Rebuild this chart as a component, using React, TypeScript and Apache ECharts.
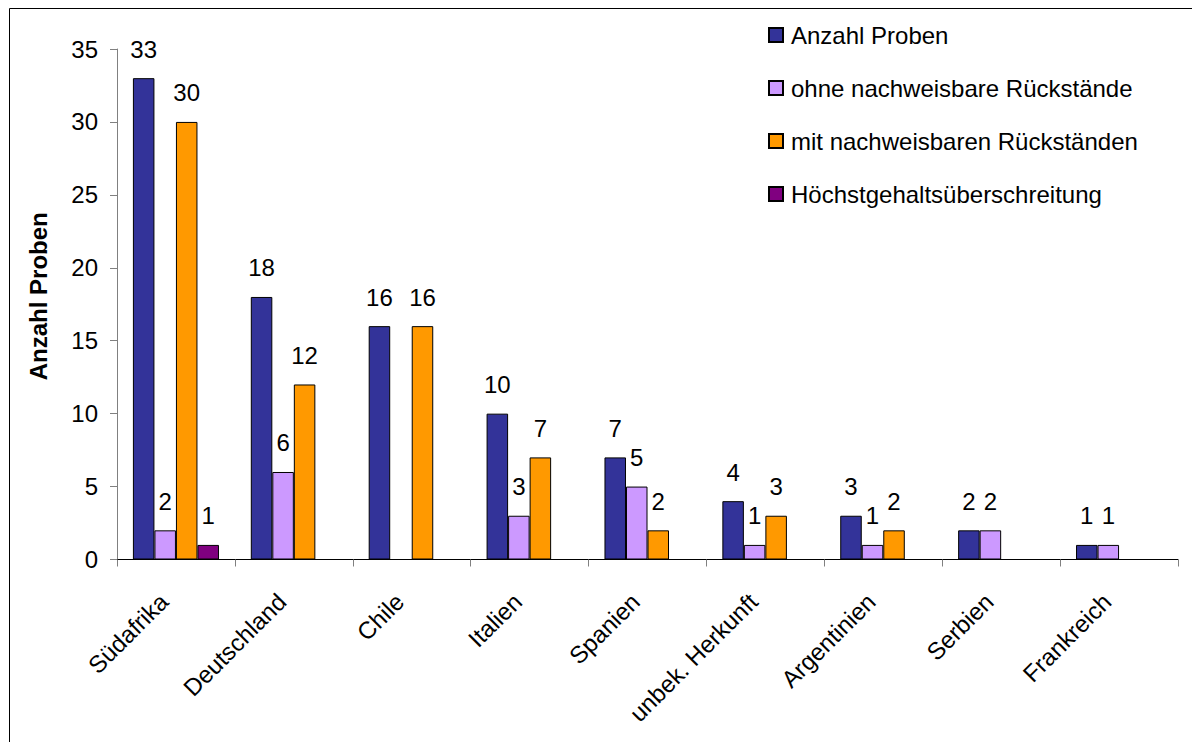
import React, { useEffect, useRef } from "react";
import * as echarts from "echarts";

const countries = [
  "Südafrika",
  "Deutschland",
  "Chile",
  "Italien",
  "Spanien",
  "unbek. Herkunft",
  "Argentinien",
  "Serbien",
  "Frankreich",
];

const seriesNames = [
  "Anzahl Proben",
  "ohne nachweisbare Rückstände",
  "mit nachweisbaren Rückständen",
  "Höchstgehaltsüberschreitung",
];

const anzahlProben = [33, 18, 16, 10, 7, 4, 3, 2, 1];
const ohneRueckstaende = [2, 6, null, 3, 5, 1, 1, 2, 1];
const mitRueckstaenden = [30, 12, 16, 7, 2, 3, 2, null, null];
const hoechstgehalt = [1, null, null, null, null, null, null, null, null];

const yTicks = { min: 0, max: 35, interval: 5 };

const colors = ["#333399", "#CC99FF", "#FF9900", "#800080"];
const FONT = "'Liberation Sans', Arial, sans-serif";

export default function App() {
  const ref = useRef<HTMLDivElement>(null);

  useEffect(() => {
    if (!ref.current) return;
    const chart = echarts.init(ref.current, undefined, { renderer: "svg" });
    const values = [anzahlProben, ohneRueckstaende, mitRueckstaenden, hoechstgehalt];

    chart.setOption({
      animation: false,
      backgroundColor: "#ffffff",
      textStyle: { fontFamily: FONT },
      grid: { left: 117, right: 14, top: 49, bottom: 182.5, containLabel: false },
      legend: {
        orient: "vertical",
        left: 768,
        top: 23,
        padding: 0,
        itemWidth: 14,
        itemHeight: 14,
        itemGap: 29,
        icon: "rect",
        textStyle: { fontSize: 24, color: "#000", fontFamily: FONT, padding: [0, 0, 0, 3] },
        data: seriesNames,
      },
      xAxis: {
        type: "category",
        data: countries,
        axisLine: { show: true, lineStyle: { color: "#000", width: 1 } },
        axisTick: { show: true, length: 7, lineStyle: { color: "#808080" } },
        axisLabel: {
          rotate: 45,
          fontSize: 24,
          color: "#000",
          fontFamily: FONT,
          margin: 26,
          padding: [0, 17, 0, 0],
          interval: 0,
        },
      },
      yAxis: {
        type: "value",
        min: yTicks.min,
        max: yTicks.max,
        interval: yTicks.interval,
        name: "Anzahl Proben",
        nameLocation: "middle",
        nameRotate: 90,
        nameGap: 67,
        nameTextStyle: {
          fontSize: 24,
          fontWeight: "bold",
          color: "#000",
          fontFamily: FONT,
          padding: [0, 0, 0, 16],
        },
        splitLine: { show: false },
        axisLine: { show: true, lineStyle: { color: "#808080", width: 1 } },
        axisTick: { show: true, length: 7, lineStyle: { color: "#808080" } },
        axisLabel: { fontSize: 24, color: "#000", fontFamily: FONT, margin: 19 },
      },
      series: seriesNames.map((name, i) => ({
        name,
        type: "bar",
        data: values[i],
        barGap: "0%",
        barCategoryGap: "27%",
        itemStyle: { color: colors[i], borderColor: "#000", borderWidth: 1 },
        label: {
          show: true,
          position: "top",
          distance: 17,
          fontSize: 24,
          color: "#000",
          fontFamily: FONT,
        },
      })),
      graphic: [
        {
          type: "line",
          shape: { x1: 9.5, y1: 8.5, x2: 1192, y2: 8.5 },
          style: { stroke: "#000", lineWidth: 1 },
        },
        {
          type: "line",
          shape: { x1: 9.5, y1: 8.5, x2: 9.5, y2: 742 },
          style: { stroke: "#000", lineWidth: 1 },
        },
      ],
    });

    return () => chart.dispose();
  }, []);

  return (
    <div
      ref={ref}
      style={{ position: "fixed", left: 0, top: 0, width: 1192, height: 742 }}
    />
  );
}
